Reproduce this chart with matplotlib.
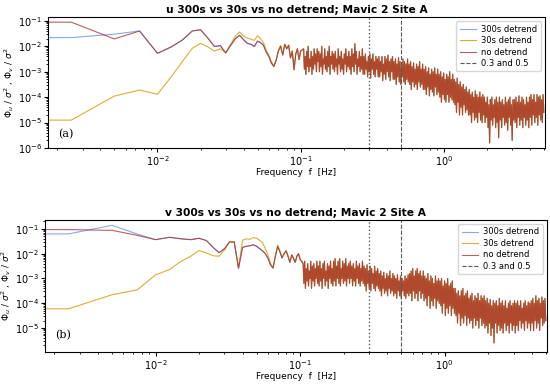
import numpy as np
import matplotlib
matplotlib.use('Agg')
import matplotlib.pyplot as plt

# frequency bins: welch bins (df = 0.0025 Hz) up to 0.1 Hz, then a thinned grid to Nyquist
df = 0.0025
f_low = np.arange(41) * df
f_hf = np.geomspace(0.105, 5.0, 320)
freq = np.concatenate([f_low, f_hf])

# ---- u component, low frequency part (n = 0..40) ----
u_300_low = [0.022, 0.022, 0.030, 0.040, 0.0053, 0.0095, 0.018, 0.040, 0.045, 0.021,
             0.0098, 0.0106, 0.0055, 0.011, 0.020, 0.027, 0.018, 0.013, 0.012, 0.0098,
             0.016, 0.014, 0.011, 0.006, 0.004, 0.0022, 0.0016, 0.0028, 0.0065, 0.010,
             0.0045, 0.012, 0.008, 0.011, 0.0035, 0.0065, 0.0012, 0.005, 0.008, 0.003, 0.0065]
u_30_low = [1.25e-5, 1.25e-5, 1.1e-4, 1.9e-4, 1.3e-4, 6.4e-4, 2.6e-3, 8.3e-3, 0.013, 0.0095,
            0.0065, 0.008, 0.0055, 0.012, 0.025, 0.037, 0.025, 0.021, 0.019, 0.017,
            0.026, 0.020, 0.014, 0.007, 0.0045, 0.0025, 0.0017, 0.003, 0.007, 0.011,
            0.0048, 0.012, 0.008, 0.011, 0.0035, 0.0065, 0.0012, 0.005, 0.008, 0.003, 0.0065]
u_no_low = [0.089, 0.089, 0.0195, 0.040, 0.0053, 0.0095, 0.018, 0.040, 0.045, 0.021,
            0.0098, 0.0106, 0.0055, 0.011, 0.020, 0.027, 0.018, 0.013, 0.012, 0.0098,
            0.016, 0.014, 0.011, 0.006, 0.004, 0.0022, 0.0016, 0.0028, 0.0065, 0.010,
            0.0045, 0.012, 0.008, 0.011, 0.0035, 0.0065, 0.0012, 0.005, 0.008, 0.003, 0.0065]

# u high frequency part (log10), identical for the three detrends
u_hf_log = [
    -2.1, -2.9, -2.4, -3.1, -2.2, -2.8, -2.0, -3.0, -2.5, -2.8, -2.2, -3.1, -2.4, -2.9, -2.1, -2.7, -2.3, -3.0, -2.1, -2.6,
    -2.2, -3.0, -2.3, -2.8, -2.0, -3.1, -2.5, -2.7, -2.1, -2.9, -2.4, -3.0, -2.2, -2.8, -2.0, -3.1, -2.4, -2.7, -2.2, -2.9,
    -2.3, -3.0, -2.2, -2.8, -2.5, -3.1, -2.1, -2.7, -2.4, -3.0, -2.2, -2.9, -2.5, -3.1, -2.3, -2.7, -2.1, -3.0, -2.4, -2.8,
    -2.2, -2.9, -2.4, -3.1, -2.1, -2.8, -2.3, -3.0, -1.9, -2.7, -2.2, -3.1, -2.5, -2.8, -2.2, -3.0, -2.4, -2.9, -2.1, -3.1,
    -2.4, -3.1, -2.3, -2.9, -2.6, -3.2, -2.4, -3.0, -2.3, -3.25, -2.5, -2.9, -2.3, -3.1, -2.6, -3.2, -2.4, -2.9, -2.5, -3.2,
    -2.4, -3.2, -2.6, -3.0, -2.4, -3.35, -2.7, -3.1, -2.4, -3.3, -2.5, -3.0, -2.35, -3.2, -2.6, -3.35, -2.5, -3.0, -2.4, -3.3,
    -2.6, -3.3, -2.5, -3.5, -2.7, -3.2, -2.45, -3.4, -2.6, -3.5, -2.8, -3.2, -2.5, -3.4, -2.6, -3.5, -2.7, -3.3, -2.5, -3.4,
    -2.7, -3.5, -2.6, -3.7, -2.8, -3.4, -2.65, -3.6, -2.9, -3.5, -2.7, -3.7, -2.8, -3.4, -2.6, -3.6, -2.9, -3.5, -2.7, -3.7,
    -2.9, -3.7, -2.8, -3.9, -3.0, -3.6, -2.85, -3.95, -3.1, -3.7, -2.9, -3.8, -3.0, -3.95, -2.85, -3.6, -3.1, -3.9, -2.9, -3.8,
    -3.1, -4.0, -3.0, -4.2, -3.2, -3.9, -3.05, -4.1, -3.3, -4.2, -3.1, -3.9, -3.2, -4.2, -3.0, -4.0, -3.3, -4.1, -3.1, -4.2,
    -3.3, -4.3, -3.4, -4.6, -3.25, -4.2, -3.5, -4.7, -3.4, -4.4, -3.6, -4.7, -3.5, -4.3, -3.7, -4.6, -3.6, -4.5, -3.8, -4.7,
    -3.7, -4.7, -3.9, -5.0, -3.8, -4.6, -4.0, -4.9, -3.75, -4.8, -3.9, -5.0, -4.0, -4.6, -3.8, -4.9, -4.0, -5.0, -3.9, -4.7,
    -4.0, -5.0, -4.2, -4.8, -4.0, -5.2, -4.3, -5.8, -4.1, -4.9, -4.0, -5.1, -4.3, -4.8, -4.1, -5.2, -4.0, -5.0, -4.2, -5.6,
    -4.0, -4.9, -4.2, -5.2, -4.1, -4.8, -4.3, -5.1, -4.0, -5.0, -4.2, -5.3, -4.1, -4.8, -4.0, -5.1, -4.3, -5.7, -4.1, -4.9,
    -4.1, -5.0, -4.0, -5.2, -4.2, -4.8, -3.95, -5.1, -4.2, -4.9, -4.0, -5.2, -4.1, -4.8, -4.3, -5.1, -4.0, -4.9, -4.2, -5.2,
    -4.0, -4.8, -3.9, -5.1, -4.1, -4.7, -3.9, -5.0, -4.2, -4.8, -3.9, -5.1, -4.0, -4.7, -3.95, -4.9, -4.1, -5.0, -3.9, -4.6,
]

# ---- v component ----
v_300_low = [0.063, 0.063, 0.14, 0.062, 0.037, 0.046, 0.040, 0.037, 0.042, 0.034,
             0.018, 0.011, 0.016, 0.030, 0.030, 0.0026, 0.018, 0.020, 0.021, 0.023,
             0.020, 0.016, 0.013, 0.010, 0.0065, 0.0035, 0.0026, 0.008, 0.020, 0.012,
             0.0067, 0.010, 0.013, 0.008, 0.0045, 0.009, 0.0065, 0.0045, 0.008, 0.010, 0.006]
v_30_low = [6e-5, 6e-5, 2.2e-4, 3.5e-4, 1.4e-3, 2.3e-3, 4.9e-3, 7.9e-3, 0.0135, 0.0107,
            0.0083, 0.0079, 0.014, 0.030, 0.031, 0.0028, 0.035, 0.040, 0.038, 0.045,
            0.042, 0.035, 0.027, 0.016, 0.009, 0.004, 0.0028, 0.009, 0.022, 0.013,
            0.007, 0.010, 0.013, 0.008, 0.0045, 0.009, 0.0065, 0.0045, 0.008, 0.010, 0.006]
v_no_low = [0.094, 0.094, 0.088, 0.055, 0.037, 0.046, 0.040, 0.037, 0.042, 0.034,
            0.018, 0.011, 0.016, 0.030, 0.030, 0.0026, 0.018, 0.020, 0.021, 0.023,
            0.020, 0.016, 0.013, 0.010, 0.0065, 0.0035, 0.0026, 0.008, 0.020, 0.012,
            0.0067, 0.010, 0.013, 0.008, 0.0045, 0.009, 0.0065, 0.0045, 0.008, 0.010, 0.006]

v_hf_log = [
    -2.4, -3.2, -2.3, -3.4, -2.6, -3.1, -2.4, -3.3, -2.7, -3.0, -2.3, -3.4, -2.5, -3.1, -2.4, -3.3, -2.6, -3.0, -2.3, -3.2,
    -2.5, -3.3, -2.3, -3.1, -2.6, -3.4, -2.4, -3.0, -2.3, -3.3, -2.7, -3.1, -2.4, -3.4, -2.5, -3.0, -2.3, -3.2, -2.6, -3.3,
    -2.3, -3.1, -2.2, -3.3, -2.5, -3.0, -2.3, -3.2, -2.2, -3.3, -2.6, -3.0, -2.3, -3.2, -2.4, -3.1, -2.2, -3.3, -2.5, -3.0,
    -2.4, -3.2, -2.3, -3.0, -2.5, -3.3, -2.4, -3.1, -2.6, -3.3, -2.3, -3.0, -2.5, -3.2, -2.4, -3.3, -2.6, -3.1, -2.3, -3.2,
    -2.5, -3.3, -2.6, -3.5, -2.45, -3.2, -2.7, -3.4, -2.5, -3.5, -2.6, -3.2, -2.8, -3.4, -2.5, -3.5, -2.7, -3.3, -2.6, -3.4,
    -2.8, -3.5, -2.7, -3.7, -2.9, -3.4, -2.75, -3.6, -3.0, -3.5, -2.8, -3.7, -2.9, -3.4, -2.7, -3.6, -3.0, -3.5, -2.8, -3.7,
    -2.9, -3.6, -3.0, -3.8, -2.85, -3.5, -3.1, -3.7, -2.9, -3.8, -3.0, -3.5, -3.1, -3.7, -2.9, -3.8, -3.0, -3.6, -2.85, -3.7,
    -2.8, -3.6, -2.7, -3.9, -2.6, -3.5, -2.9, -3.8, -2.7, -3.6, -2.6, -3.9, -2.8, -3.5, -2.7, -3.8, -2.9, -3.6, -2.7, -3.9,
    -2.9, -3.8, -3.0, -4.1, -2.8, -3.7, -3.1, -4.2, -2.9, -3.9, -3.0, -4.1, -3.2, -3.8, -2.9, -4.2, -3.1, -3.9, -3.0, -4.0,
    -3.1, -4.1, -3.0, -4.4, -3.3, -4.0, -3.1, -4.5, -3.2, -4.2, -3.0, -4.4, -3.3, -4.1, -3.2, -4.5, -3.1, -4.2, -3.4, -4.4,
    -3.4, -4.5, -3.6, -4.8, -3.5, -4.4, -3.7, -4.9, -3.5, -4.6, -3.4, -4.8, -3.7, -4.5, -3.6, -4.9, -3.5, -4.6, -3.8, -4.8,
    -3.7, -4.7, -3.6, -5.0, -3.9, -4.6, -3.7, -4.9, -3.8, -4.7, -3.6, -5.0, -3.9, -4.6, -3.7, -4.9, -3.8, -4.8, -3.7, -5.0,
    -3.9, -4.9, -3.8, -5.2, -4.0, -4.8, -3.85, -5.3, -4.1, -5.0, -3.9, -5.6, -4.0, -4.8, -3.9, -5.2, -4.1, -4.9, -3.8, -5.1,
    -4.0, -5.0, -3.9, -5.2, -4.1, -4.8, -3.9, -5.1, -4.2, -4.9, -4.0, -5.2, -3.9, -4.8, -4.1, -5.1, -4.0, -4.9, -3.9, -5.2,
    -4.0, -4.9, -3.9, -5.1, -4.1, -4.7, -3.9, -5.0, -4.2, -4.8, -4.0, -5.1, -3.9, -4.7, -4.1, -5.0, -3.95, -4.8, -4.0, -5.1,
    -3.9, -4.8, -3.8, -5.1, -4.0, -4.7, -3.7, -5.0, -3.9, -4.8, -3.8, -5.1, -4.0, -4.6, -3.75, -4.9, -3.9, -4.8, -3.8, -4.7,
]

labels = ['300s detrend', '30s detrend', 'no detrend']
colors = ['cornflowerblue', 'goldenrod', 'brown']
alphas = [0.8, 0.9, 0.75]


def full(low, hf_log):
    return np.concatenate([np.array(low, dtype=float), 10.0 ** np.array(hf_log)])


panels = [
    ('u', [full(u_300_low, u_hf_log), full(u_30_low, u_hf_log), full(u_no_low, u_hf_log)],
     (1e-6, 0.14), '(a)', 0.11, [0.0873, 0.6146, 0.9037, 0.3407]),
    ('v', [full(v_300_low, v_hf_log), full(v_30_low, v_hf_log), full(v_no_low, v_hf_log)],
     (1.05e-6, 0.23), '(b)', 0.127, [0.0818, 0.0826, 0.9127, 0.3445]),
]

fig = plt.figure(figsize=(5.5, 3.84), dpi=100)

for comp, series, ylim, tag, tag_y, rect in panels:
    ax = fig.add_axes(rect)
    for s, lab, c, a in zip(series, labels, colors, alphas):
        ax.plot(freq, s, color=c, lw=0.8, alpha=a, label=lab)
    ax.axvline(0.3, color='0.35', ls=':', lw=1.0)
    ax.axvline(0.5, color='0.35', ls='--', lw=0.8, label='0.3 and 0.5')
    ax.set_xscale('log')
    ax.set_yscale('log')
    ax.set_xlim(1.72e-3, 5.1)
    ax.set_ylim(*ylim)
    ax.set_title(f'{comp} 300s vs 30s vs no detrend; Mavic 2 Site A',
                 fontsize=7.7, fontweight='bold', pad=3)
    ax.set_xlabel('Frequency  f  [Hz]', fontsize=6.5, labelpad=0)
    ax.set_ylabel(r'$\Phi_u$ / $\sigma^2$ , $\Phi_v$ / $\sigma^2$', fontsize=6.5, labelpad=1)
    ax.tick_params(labelsize=7, pad=1.5, length=3)
    ax.tick_params(which='minor', length=1.5)
    ax.legend(loc='upper right', fontsize=6, handlelength=2.0, borderpad=0.4,
              labelspacing=0.3, handletextpad=0.6)
    ax.text(0.02, tag_y, tag, transform=ax.transAxes,
            fontsize=8, family='serif', ha='left', va='center')

fig.savefig('out.png', dpi=100)
